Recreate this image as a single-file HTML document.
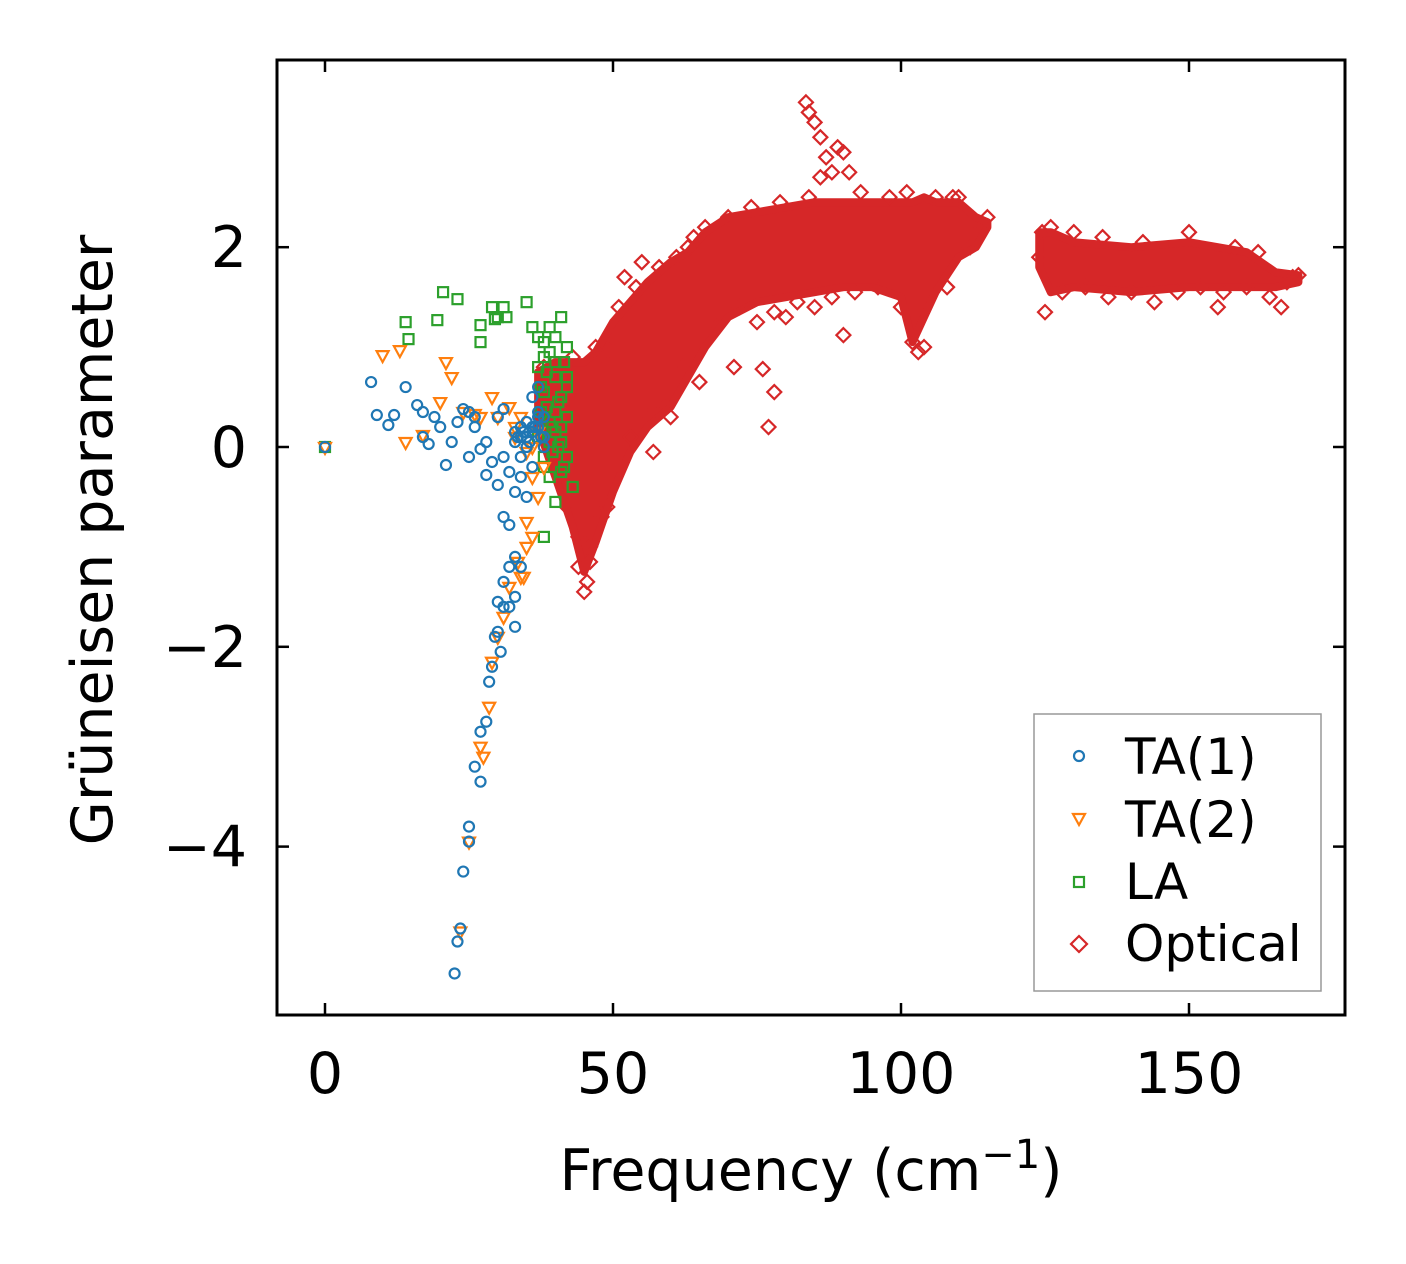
<!DOCTYPE html>
<html><head><meta charset="utf-8"><style>
html,body{margin:0;padding:0;background:#fff;}
svg{display:block;font-family:"DejaVu Sans","Liberation Sans",sans-serif;}
</style></head><body>
<svg id="chart" width="1406" height="1264" viewBox="0 0 1406 1264" xmlns="http://www.w3.org/2000/svg">
<rect width="1406" height="1264" fill="#fff"/>
<g id="band"></g>
<g id="marks"></g>
<g id="axes"></g>
<rect x="277" y="60" width="1068" height="955" fill="none" stroke="#000" stroke-width="3"/>
<text x="811" y="1190" font-size="57" text-anchor="middle">Frequency (cm<tspan dy="-22" font-size="40">−1</tspan><tspan dy="22">)</tspan></text>
<text transform="translate(112,540) rotate(-90)" font-size="57" text-anchor="middle">Grüneisen parameter</text>
<g>
<rect x="1034" y="714" width="287" height="277" fill="#fff" stroke="#999" stroke-width="1.5"/>
<g><circle cx="1079" cy="756" r="5" fill="none" stroke="#1f77b4" stroke-width="2.2"/><text x="1125" y="774" font-size="50">TA(1)</text></g>
<g><path d="M1073,814 L1085,814 L1079,825 Z" fill="none" stroke="#ff7f0e" stroke-width="2.2"/><text x="1125" y="837" font-size="50">TA(2)</text></g>
<g><rect x="1074" y="877" width="10" height="10" fill="none" stroke="#2ca02c" stroke-width="2.2"/><text x="1125" y="899" font-size="50">LA</text></g>
<g><path d="M1079,936 L1087,944 L1079,952 L1071,944 Z" fill="none" stroke="#d62728" stroke-width="2.2"/><text x="1125" y="961" font-size="50">Optical</text></g>
</g>
</svg>
<script>
const xTicks=[0,50,100,150];
const yTicks=[-4,-2,0,2];
const yTickLabels=["−4","−2","0","2"];
const bandX=[37,40,43,45,47,50,53,56,60,63,66,70,75,80,85,90,95,100,102,104,106,110,113,115,124,126,130,140,150,160,165,169];
const bandLow=[0.2,-0.3,-0.8,-1.25,-0.95,-0.45,-0.05,0.2,0.4,0.7,1.0,1.3,1.45,1.5,1.55,1.6,1.6,1.5,1.05,1.3,1.55,1.9,2.0,2.2,1.8,1.55,1.6,1.55,1.6,1.6,1.6,1.65];
const bandHigh=[0.75,0.85,0.85,0.85,0.95,1.25,1.45,1.65,1.85,1.95,2.15,2.3,2.35,2.4,2.45,2.45,2.45,2.45,2.45,2.5,2.45,2.45,2.3,2.25,2.15,2.15,2.05,2.0,2.05,1.95,1.75,1.72];
const ta1X=[0,8,9,11,12,14,16,17,17,18,19,20,21,22,23,24,25,25,26,27,28,29,30,31,31,32,33,34,35,36,37,38,22.5,23,23.5,24,25,25,26,27,27,28,28.5,29,30,30,31,31,32,32,33,33,34,30.5,29.5,33,34,35,36,37,33,34,35,36,37,38,34,35,36,37,38,32,33,30,31,28,26,33.5,34.5,35.5,36.5,37.5];
const ta1Y=[0,0.65,0.32,0.22,0.32,0.6,0.42,0.35,0.1,0.03,0.3,0.2,-0.18,0.05,0.25,0.38,0.35,-0.1,0.2,-0.02,-0.28,-0.15,-0.38,0.38,-0.7,-0.78,-0.45,0.2,-0.5,0.5,0.6,0.3,-5.27,-4.95,-4.82,-4.25,-3.95,-3.8,-3.2,-3.35,-2.85,-2.75,-2.35,-2.2,-1.85,-1.55,-1.6,-1.35,-1.6,-1.2,-1.1,-1.5,-1.2,-2.05,-1.9,-1.8,-0.3,0.1,0.15,0.2,0.05,0.1,0.25,0.2,0.35,0.1,-0.1,0.0,-0.2,0.3,0.0,-0.25,0.15,0.3,-0.1,0.05,0.3,0.1,0.15,0.05,0.2,0.1];
const ta2X=[0,10,13,14,17,20,21,22,24,26,27,29,30,32,33,35,36,37,38,23.5,25,27,27.5,28.5,29,30,31,32,34,35,35,36,33.5,34.5,33,34,36,37];
const ta2Y=[0,0.92,0.97,0.05,0.12,0.45,0.85,0.7,0.35,0.33,0.3,0.5,0.3,0.4,0.2,-0.05,-0.3,-0.5,-0.2,-4.85,-3.95,-3.0,-3.1,-2.6,-2.15,-1.9,-1.7,-1.4,-1.3,-1.0,-0.75,-0.9,-1.15,-1.3,0.1,0.3,0.0,0.15];
const laX=[0,14,14.5,20.5,19.5,23,27,27,29,29.5,30,31,31.5,35,36,37,38,39,40,41,42,40,38,43,37,37.5,38,38.5,39,39.5,40,40.5,41,41.5,42,37,38,39,40,41,42,37.5,38.5,39.5,40.5,41.5,38,39,40,41,42,38,40,42,39,41];
const laY=[0,1.25,1.08,1.55,1.27,1.48,1.22,1.05,1.4,1.28,1.3,1.4,1.3,1.45,1.2,1.1,1.05,1.2,1.1,1.3,1.0,-0.55,-0.9,-0.4,0.8,0.6,0.9,0.4,0.95,0.2,0.7,0.0,0.5,-0.2,0.3,0.1,-0.1,-0.3,0.15,-0.25,0.6,0.35,0.75,-0.05,0.45,0.85,0.55,0.25,0.85,0.05,-0.1,-0.2,0.35,0.7,0.05,0.2];
const optX=[83.5,84,85,86,87,88,89,86,90,91,71,76,77,78,90,102,45,45.5,44,46,49,57,60,65,55,52,61,64,66,75,80,85,110,115,125,126,155,166,168,38,40,42,44,46,48,50,53,56,59,62,68,72,78,82,88,92,96,100,103,104,108,112,114,124,128,132,136,140,144,148,152,156,160,164,167,43,47,51,54,58,63,70,74,79,84,93,98,101,106,109,124.5,130,135,142,150,158,162,169,41,44,48,50];
const optY=[3.45,3.35,3.25,3.1,2.9,2.75,3.0,2.7,2.95,2.75,0.8,0.78,0.2,0.55,1.12,1.05,-1.45,-1.35,-1.2,-1.15,-0.6,-0.05,0.3,0.65,1.85,1.7,1.9,2.1,2.2,1.25,1.3,1.4,2.5,2.3,1.35,2.2,1.4,1.4,1.7,0.8,0.7,-0.6,-0.9,-1.0,-0.7,-0.2,0.1,0.3,0.4,0.8,1.2,1.4,1.35,1.45,1.5,1.55,1.6,1.4,0.95,1.0,1.6,2.0,2.2,1.9,1.55,1.6,1.5,1.55,1.45,1.55,1.6,1.55,1.6,1.5,1.65,0.9,1.0,1.4,1.6,1.8,2.0,2.3,2.4,2.45,2.5,2.55,2.5,2.55,2.5,2.5,2.15,2.15,2.1,2.05,2.15,2.0,1.95,1.72,0.3,0.5,0.9,1.1];
const NS="http://www.w3.org/2000/svg";
const X0=325,XS=5.76,Y0=447,YS=99.9;
function sx(v){return X0+v*XS;}
function sy(v){return Y0-v*YS;}
function mk(t,a){const e=document.createElementNS(NS,t);for(const k in a)e.setAttribute(k,a[k]);return e;}
const axes=document.getElementById('axes');
xTicks.forEach(v=>{
  const x=sx(v);
  const t1=mk('line',{x1:x,x2:x,y1:1015,y2:1003,stroke:'#000','stroke-width':2.5});
  
  
  axes.appendChild(t1);
  const t2=mk('line',{x1:x,x2:x,y1:60,y2:72,stroke:'#000','stroke-width':2.5});
  
  
  axes.appendChild(t2);
  const l=mk('text',{x:x,y:1093,'font-size':57,'text-anchor':'middle'});
  l.textContent=String(v);
  
  
  axes.appendChild(l);
});
yTicks.forEach((v,i)=>{
  const y=sy(v);
  const t1=mk('line',{x1:277,x2:289,y1:y,y2:y,stroke:'#000','stroke-width':2.5});
  
  
  axes.appendChild(t1);
  const t2=mk('line',{x1:1333,x2:1345,y1:y,y2:y,stroke:'#000','stroke-width':2.5});
  
  
  axes.appendChild(t2);
  const l=mk('text',{x:247,y:y+20,'font-size':57,'text-anchor':'end'});
  l.textContent=yTickLabels[i];
  
  
  axes.appendChild(l);
});
const band=document.getElementById('band');
function bandPath(idx){
  let d='';idx.forEach((i,k)=>{d+=(k?'L':'M')+sx(bandX[i])+','+sy(bandHigh[i]);});
  idx.slice().reverse().forEach(i=>{d+='L'+sx(bandX[i])+','+sy(bandLow[i]);});
  return d+'Z';
}
const seg1=[],seg2=[];
bandX.forEach((v,i)=>{(v<120?seg1:seg2).push(i);});
[seg1,seg2].forEach(s=>{
  const p=mk('path',{d:bandPath(s),fill:'#d62728',stroke:'#d62728','stroke-width':8,'stroke-linejoin':'round'});
  
  
  band.appendChild(p);
});
const marks=document.getElementById('marks');
optX.forEach((v,i)=>{
  const x=sx(v),y=sy(optY[i]);
  const p=mk('path',{d:`M${x},${y-7}L${x+7},${y}L${x},${y+7}L${x-7},${y}Z`,fill:'none',stroke:'#d62728','stroke-width':2.2});
  
  
  marks.appendChild(p);
});
laX.forEach((v,i)=>{
  const x=sx(v),y=sy(laY[i]);
  const p=mk('rect',{x:x-5,y:y-5,width:10,height:10,fill:'none',stroke:'#2ca02c','stroke-width':2.2});
  
  
  marks.appendChild(p);
});
ta2X.forEach((v,i)=>{
  const x=sx(v),y=sy(ta2Y[i]);
  const p=mk('path',{d:`M${x-6},${y-4}L${x+6},${y-4}L${x},${y+7}Z`,fill:'none',stroke:'#ff7f0e','stroke-width':2.2});
  
  
  marks.appendChild(p);
});
ta1X.forEach((v,i)=>{
  const p=mk('circle',{cx:sx(v),cy:sy(ta1Y[i]),r:5,fill:'none',stroke:'#1f77b4','stroke-width':2.2});
  
  
  marks.appendChild(p);
});
</script>
</body></html>
